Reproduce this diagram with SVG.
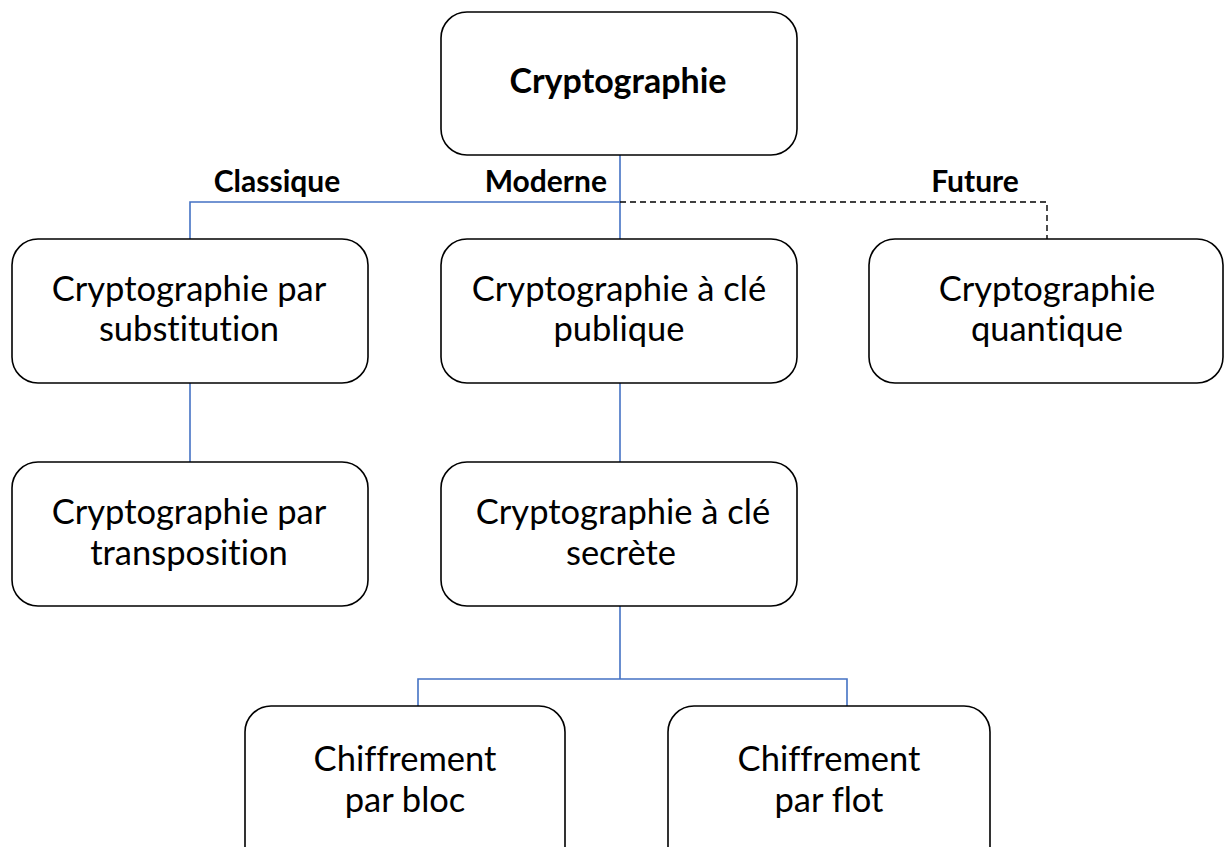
<svg xmlns="http://www.w3.org/2000/svg" width="1224" height="847" viewBox="0 0 1224 847">
<style>
text{font-family:Lato,"Open Sans","Liberation Sans",sans-serif;fill:#000;font-variant-ligatures:none;font-feature-settings:"liga" 0}
.box{fill:#fff;stroke:#000;stroke-width:1.6}
.t{font-size:34.5px;text-anchor:middle}
.tb{font-size:34px;font-weight:bold;text-anchor:middle}
.lb{font-size:30px;font-weight:bold}
.c{fill:none;stroke:#4472C4;stroke-width:1.6}
.d{fill:none;stroke:#000;stroke-width:1.4;stroke-dasharray:6 4}
</style>
<rect width="1224" height="847" fill="#fff"/>
<g id="connectors">
<path class="c" d="M620 155V239M190 239V202H620"/>
<path class="d" d="M620 202H1047V239"/>
<path class="c" d="M190 383V462"/>
<path class="c" d="M620 383V462"/>
<path class="c" d="M620 606V679M418 706V679H847V706"/>
<text class="lb" x="277" y="192" text-anchor="middle">Classique</text>
<text class="lb" x="607" y="192" text-anchor="end">Moderne</text>
<text class="lb" x="975" y="192" text-anchor="middle">Future</text>
</g>
<g id="root">
<rect class="box" x="441" y="12" width="356" height="143" rx="26"/>
<text class="tb" x="618" y="93">Cryptographie</text>
</g>
<g id="substitution">
<rect class="box" x="12" y="239" width="356" height="144" rx="26"/>
<text class="t" x="189" y="301">Cryptographie par</text>
<text class="t" x="189" y="341">substitution</text>
</g>
<g id="publique">
<rect class="box" x="441" y="239" width="356" height="144" rx="26"/>
<text class="t" x="619" y="301">Cryptographie à clé</text>
<text class="t" x="619" y="341">publique</text>
</g>
<g id="quantique">
<rect class="box" x="869" y="239" width="354" height="144" rx="26"/>
<text class="t" x="1047" y="301">Cryptographie</text>
<text class="t" x="1047" y="341">quantique</text>
</g>
<g id="transposition">
<rect class="box" x="12" y="462" width="356" height="144" rx="26"/>
<text class="t" x="189" y="524">Cryptographie par</text>
<text class="t" x="189" y="565">transposition</text>
</g>
<g id="secrete">
<rect class="box" x="441" y="462" width="356" height="144" rx="26"/>
<text class="t" x="623" y="524">Cryptographie à clé</text>
<text class="t" x="621" y="565">secrète</text>
</g>
<g id="bloc">
<rect class="box" x="245" y="706" width="320" height="170" rx="26"/>
<text class="t" x="405" y="771">Chiffrement</text>
<text class="t" x="405" y="812">par bloc</text>
</g>
<g id="flot">
<rect class="box" x="668" y="706" width="322" height="170" rx="26"/>
<text class="t" x="829" y="771">Chiffrement</text>
<text class="t" x="829" y="812">par flot</text>
</g>
</svg>
